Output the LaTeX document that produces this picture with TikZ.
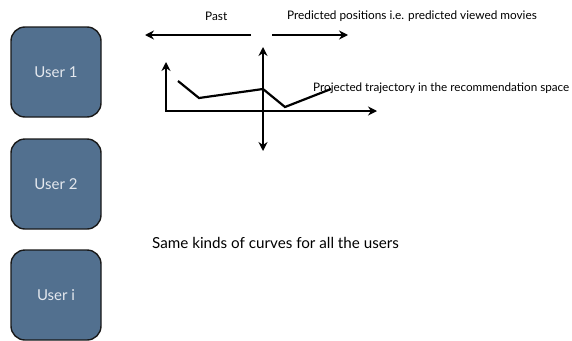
\documentclass[tikz,border=0pt]{standalone}
\usepackage{fontspec}
\setmainfont{Lato}
\usetikzlibrary{arrows.meta}
\definecolor{userblue}{HTML}{52708F}
\definecolor{usertext}{HTML}{E4E8EE}
\tikzset{
  userbox/.style={draw=black!90, line width=1.4pt, fill=userblue, rounded corners=14pt,
    minimum width=90pt, minimum height=90pt, inner sep=0pt, text=usertext, font=\fontsize{15}{17}\selectfont},
  axis/.style={line width=2.2pt, -{Stealth[length=9pt,width=9pt]}},
  biaxis/.style={line width=2.2pt, {Stealth[length=9pt,width=9pt]}-{Stealth[length=9pt,width=9pt]}},
  traj/.style={line width=2.2pt, line join=miter},
  lbl/.style={font=\fontsize{11.8}{13}\selectfont, inner sep=0pt, anchor=west},
}
\begin{document}
\begin{tikzpicture}[x=1pt,y=-1pt]
\useasboundingbox (0,0) rectangle (572,340);
\fill[white] (0,0) rectangle (572,340);
% user boxes
\node[userbox] (u1) at (56,72) {User 1};
\node[userbox] (u2) at (56,184) {User 2};
\node[userbox] (ui) at (56,295) {User i};
% time arrows
\coordinate (pastS) at (251,35);
\coordinate (pastE) at (145,35);
\coordinate (predS) at (272,35);
\coordinate (predE) at (348,35);
\draw[axis] (pastS) -- (pastE);
\draw[axis] (predS) -- (predE);
\node[lbl] (past) at (205,16) {Past};
\node[lbl] (pred) at (287,16) {Predicted positions i.e. predicted viewed movies};
% axes
\coordinate (o) at (166,111);
\coordinate (ytop) at (166,62);
\coordinate (xend) at (377,111);
\coordinate (vtop) at (263,47);
\coordinate (vbot) at (263,151);
\draw[biaxis, line join=miter] (ytop) -- (o) -- (xend);
\draw[biaxis] (vbot) -- (vtop);
% trajectory
\coordinate (t1) at (178,81);
\coordinate (t2) at (199,98);
\coordinate (t3) at (263,89);
\coordinate (t4) at (285,107);
\coordinate (t5) at (331,89);
\draw[traj] (t1) -- (t2) -- (t3) -- (t4) -- (t5);
\node[lbl, font=\fontsize{11.7}{13}\selectfont] (proj) at (313,88) {Projected trajectory in the recommendation space};
\node[lbl, font=\fontsize{15.2}{17}\selectfont] (same) at (152,243) {Same kinds of curves for all the users};
\end{tikzpicture}
\end{document}
